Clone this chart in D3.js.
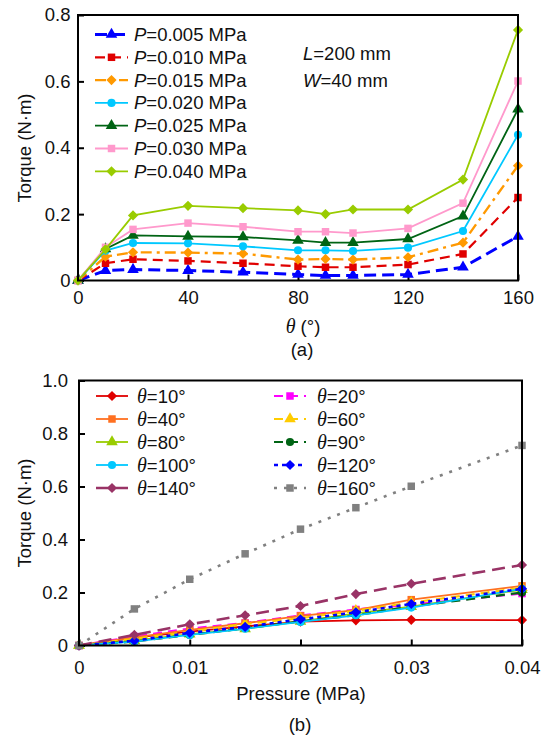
<!DOCTYPE html>
<html>
<head>
<meta charset="utf-8">
<script src="https://cdn.jsdelivr.net/npm/d3@7"></script>
<style>
  body { margin: 0; background: #fff; }
  svg { display: block; }
  text { font-family: "Liberation Sans", Arial, sans-serif; font-size: 18.5px; fill: #111; }
  .theta { font-family: "Liberation Serif", "Times New Roman", serif; font-style: italic; }
  .it { font-style: italic; }
</style>
</head>
<body>
<svg id="chart" width="548" height="737"></svg>
<script>
// ---- data (a): torque vs bending angle, one series per pressure ----
var angles = [0, 10, 20, 40, 60, 80, 90, 100, 120, 140, 160];
var pressures = [0.005, 0.010, 0.015, 0.020, 0.025, 0.030, 0.040];
var torque005 = [0, 0.030, 0.033, 0.030, 0.025, 0.018, 0.015, 0.015, 0.018, 0.040, 0.133];
var torque010 = [0, 0.052, 0.064, 0.059, 0.052, 0.043, 0.040, 0.040, 0.048, 0.080, 0.250];
var torque015 = [0, 0.072, 0.085, 0.084, 0.081, 0.063, 0.065, 0.063, 0.070, 0.114, 0.346];
var torque020 = [0, 0.090, 0.113, 0.112, 0.103, 0.091, 0.091, 0.089, 0.099, 0.149, 0.439];
var torque025 = [0, 0.095, 0.136, 0.133, 0.131, 0.121, 0.114, 0.114, 0.125, 0.194, 0.516];
var torque030 = [0, 0.100, 0.154, 0.173, 0.162, 0.147, 0.147, 0.143, 0.157, 0.233, 0.601];
var torque040 = [0, 0.094, 0.196, 0.225, 0.218, 0.211, 0.200, 0.214, 0.214, 0.304, 0.755];

// ---- data (b): torque vs pressure, one series per angle ----
var pressureTicks = [0, 0.005, 0.010, 0.015, 0.020, 0.025, 0.030, 0.040];
var thetas = [10, 20, 40, 60, 80, 90, 100, 120, 140, 160];
var torqueByTheta = [
  [0, 0.030, 0.052, 0.072, 0.090, 0.095, 0.097, 0.096],
  [0, 0.034, 0.064, 0.085, 0.113, 0.136, 0.154, 0.196],
  [0, 0.031, 0.059, 0.084, 0.112, 0.133, 0.173, 0.225],
  [0, 0.025, 0.052, 0.081, 0.103, 0.131, 0.162, 0.218],
  [0, 0.018, 0.043, 0.063, 0.091, 0.121, 0.147, 0.211],
  [0, 0.015, 0.040, 0.065, 0.091, 0.114, 0.147, 0.200],
  [0, 0.015, 0.040, 0.063, 0.089, 0.114, 0.143, 0.214],
  [0, 0.018, 0.048, 0.070, 0.099, 0.125, 0.157, 0.214],
  [0, 0.040, 0.080, 0.114, 0.149, 0.194, 0.233, 0.304],
  [0, 0.138, 0.250, 0.346, 0.439, 0.520, 0.601, 0.755]
];

var ticksA_x = [0, 40, 80, 120, 160];
var ticksA_y = [0, 0.2, 0.4, 0.6, 0.8];
var ticksB_x = [0, 0.01, 0.02, 0.03, 0.04];
var ticksB_y = [0, 0.2, 0.4, 0.6, 0.8, 1.0];

var svg = d3.select('#chart');

// styles
var stylesA = [
  {color: '#0000ff', shape: 'triangle', dash: '12,6', width: 3},
  {color: '#e00000', shape: 'square', dash: '10,6', width: 2.2},
  {color: '#ff9900', shape: 'diamond', dash: '11,5,3,5', width: 2.4},
  {color: '#00c8ff', shape: 'circle', dash: null, width: 1.8},
  {color: '#006414', shape: 'triangle', dash: null, width: 1.8},
  {color: '#ff99cc', shape: 'square', dash: null, width: 1.8},
  {color: '#99cc00', shape: 'diamond', dash: null, width: 1.8}
];
var stylesB = [
  {color: '#e00000', shape: 'diamond', dash: null, width: 1.8},
  {color: '#ff00ff', shape: 'square', dash: '9,6', width: 2.2},
  {color: '#ff7020', shape: 'square', dash: null, width: 1.8},
  {color: '#ffcc00', shape: 'triangle', dash: '9,6', width: 2.2},
  {color: '#99cc00', shape: 'triangle', dash: null, width: 1.8},
  {color: '#006414', shape: 'circle', dash: '9,6', width: 2.2},
  {color: '#00c8ff', shape: 'circle', dash: null, width: 1.8},
  {color: '#0000ff', shape: 'diamond', dash: '4,4', width: 2.6},
  {color: '#993366', shape: 'diamond', dash: '13,7', width: 2.6},
  {color: '#808080', shape: 'square', dash: '3,7', width: 2.6}
];

function marker(shape) {
  if (shape == 'circle') return d3.symbol().type(d3.symbolCircle).size(52)();
  if (shape == 'triangle') return d3.symbol().type(d3.symbolTriangle).size(58)();
  return d3.symbol().type(d3.symbolSquare).size(shape == 'diamond' ? 52 : 56)();
}
function markerTransform(shape, x, y) {
  return 'translate(' + x + ',' + y + ')' + (shape == 'diamond' ? ' rotate(45)' : '');
}

function drawPanel(opt) {
  var g = svg.append('g');
  var x = d3.scaleLinear().domain(opt.xDomain).range(opt.xRange);
  var y = d3.scaleLinear().domain(opt.yDomain).range(opt.yRange);

  var xAxis = d3.axisBottom(x).tickValues(opt.xTicks).tickFormat(opt.xFormat)
      .tickSize(-6).tickSizeOuter(0).tickPadding(opt.xPad);
  var yAxis = d3.axisLeft(y).tickValues(opt.yTicks).tickFormat(opt.yFormat)
      .tickSize(-6).tickSizeOuter(0).tickPadding(opt.yPad);

  var gx = g.append('g').attr('transform', 'translate(0,' + opt.yRange[0] + ')').call(xAxis);
  var gy = g.append('g').attr('transform', 'translate(' + opt.xRange[0] + ',0)').call(yAxis);
  [gx, gy].forEach(function (a) {
    a.select('.domain').remove();
    a.selectAll('line').attr('stroke', '#000').attr('stroke-width', 2);
    a.selectAll('text').style('font-size', '18.5px').attr('fill', '#111')
      .style('font-family', '"Liberation Sans", Arial, sans-serif');
  });

  var line = d3.line()
    .x(function (d) { return x(d[0]); })
    .y(function (d) { return y(d[1]); });

  opt.series.forEach(function (s, i) {
    var st = opt.styles[i];
    var pts = opt.xs.map(function (xv, j) { return [xv, s[j]]; });
    g.append('path')
      .attr('d', line(pts))
      .attr('fill', 'none')
      .attr('stroke', st.color)
      .attr('stroke-width', st.width)
      .attr('stroke-dasharray', st.dash);
    g.selectAll(null).data(pts).enter().append('path')
      .attr('d', marker(st.shape))
      .attr('transform', function (d) { return markerTransform(st.shape, x(d[0]), y(d[1])); })
      .attr('fill', st.color);
  });

  // frame
  g.append('rect')
    .attr('x', opt.xRange[0]).attr('y', opt.yRange[1])
    .attr('width', opt.xRange[1] - opt.xRange[0])
    .attr('height', opt.yRange[0] - opt.yRange[1])
    .attr('fill', 'none').attr('stroke', '#000').attr('stroke-width', 2);

  return g;
}

function legendItem(g, st, x0, x1, yc, textX) {
  g.append('line')
    .attr('x1', x0).attr('x2', x1).attr('y1', yc).attr('y2', yc)
    .attr('stroke', st.color).attr('stroke-width', st.width)
    .attr('stroke-dasharray', st.dash);
  g.append('path')
    .attr('d', marker(st.shape))
    .attr('transform', markerTransform(st.shape, (x0 + x1) / 2, yc))
    .attr('fill', st.color);
}

// ---------------- panel (a) ----------------
var seriesA = [torque005, torque010, torque015, torque020, torque025, torque030, torque040];
var ga = drawPanel({
  xDomain: [0, 160], xRange: [78, 518],
  yDomain: [0, 0.8], yRange: [280.5, 15],
  xTicks: ticksA_x, yTicks: ticksA_y,
  xFormat: d3.format('d'), yFormat: function (d) { return d == 0 ? '0' : d3.format('.1f')(d); },
  xPad: 10, yPad: 7.5,
  xs: angles, series: seriesA, styles: stylesA
});

pressures.forEach(function (p, i) {
  var yc = 34.5 + i * 22.8;
  legendItem(ga, stylesA[i], 95, 128, yc);
  var t = ga.append('text').attr('x', 134).attr('y', yc + 6.5);
  t.append('tspan').attr('class', 'it').text('P');
  t.append('tspan').text('=' + d3.format('.3f')(p) + ' MPa');
});

var tL = ga.append('text').attr('x', 303).attr('y', 60);
tL.append('tspan').attr('class', 'it').text('L');
tL.append('tspan').text('=200 mm');
var tW = ga.append('text').attr('x', 303).attr('y', 87);
tW.append('tspan').attr('class', 'it').text('W');
tW.append('tspan').text('=40 mm');

ga.append('text').attr('transform', 'translate(31,148) rotate(-90)')
  .attr('text-anchor', 'middle').text('Torque (N\u00b7m)');
var tx = ga.append('text').attr('x', 303).attr('y', 333).attr('text-anchor', 'middle');
tx.append('tspan').attr('class', 'theta').style('font-size', '20px').text('\u03b8');
tx.append('tspan').text(' (\u00b0)');
ga.append('text').attr('x', 302).attr('y', 356).attr('text-anchor', 'middle').text('(a)');

// ---------------- panel (b) ----------------
var gb = drawPanel({
  xDomain: [0, 0.04], xRange: [79, 522],
  yDomain: [0, 1.0], yRange: [645.5, 380.5],
  xTicks: ticksB_x, yTicks: ticksB_y,
  xFormat: function (d) { return d == 0 ? '0' : d3.format('.2f')(d); },
  yFormat: function (d) { return d == 0 ? '0' : d3.format('.1f')(d); },
  xPad: 15, yPad: 11,
  xs: pressureTicks, series: torqueByTheta, styles: stylesB
});

thetas.forEach(function (th, i) {
  var col = i % 2, row = Math.floor(i / 2);
  var yc = 396 + row * 23;
  var x0 = col == 0 ? 96 : 274, x1 = col == 0 ? 128 : 306, tx0 = col == 0 ? 137 : 317;
  legendItem(gb, stylesB[i], x0, x1, yc);
  var t = gb.append('text').attr('x', tx0).attr('y', yc + 7);
  t.append('tspan').attr('class', 'theta').style('font-size', '20px').text('\u03b8');
  t.append('tspan').text('=' + th + '\u00b0');
});

gb.append('text').attr('transform', 'translate(31,513) rotate(-90)')
  .attr('text-anchor', 'middle').text('Torque (N\u00b7m)');
gb.append('text').attr('x', 301).attr('y', 700).attr('text-anchor', 'middle').text('Pressure (MPa)');
gb.append('text').attr('x', 300).attr('y', 731).attr('text-anchor', 'middle').text('(b)');
</script>
</body>
</html>
